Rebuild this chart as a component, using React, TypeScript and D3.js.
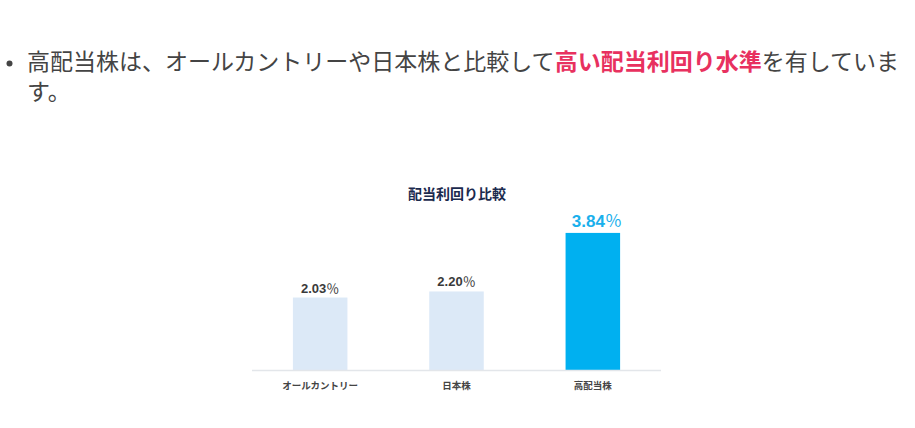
import React from "react";
import * as d3 from "d3";

const categories = ["オールカントリー", "日本株", "高配当株"];
const yields = [2.03, 2.2, 3.84];
const valueLabels = ["2.03", "2.20", "3.84"];
const percentSign = "％";
const chartTitle = "配当利回り比較";
const textPlain1 = "高配当株は、オールカントリーや日本株と比較して";
const textHighlight = "高い配当利回り水準";
const textPlain2 = "を有していま";
const textLine2 = "す。";

const W = 915;
const H = 428;

export default function App() {
  const x = d3.scaleBand<string>().domain(categories).range([252, 661]).paddingInner(0.6).paddingOuter(0.3);
  const y = d3.scaleLinear().domain([0, 4.2]).range([370, 370 - 4.2 * 35.7]);
  const barColors = ["#dce9f7", "#dce9f7", "#00b0f0"];
  const font = "'Noto Sans CJK JP', 'Noto Sans', sans-serif";
  return (
    <svg width={W} height={H} style={{ position: "absolute", left: 0, top: 0, display: "block", background: "#fff" }}>
      <circle cx={9.5} cy={63.5} r={3} fill="#444" />
      <text x={27} y={70} fontFamily={font} fontSize={23} fill="#444">
        <tspan>{textPlain1}</tspan>
        <tspan fill="#e8315f" fontWeight={700}>{textHighlight}</tspan>
        <tspan>{textPlain2}</tspan>
      </text>
      <text x={27} y={99.5} fontFamily={font} fontSize={23} fill="#444">{textLine2}</text>

      <text x={457} y={199} textAnchor="middle" fontFamily={font} fontSize={14} fontWeight={700} fill="#1b2a4e">{chartTitle}</text>

      {categories.map((c, i) => (
        <rect key={c} x={x(c)} y={y(yields[i])} width={x.bandwidth()} height={y(0) - y(yields[i])} fill={barColors[i]} />
      ))}
      <line x1={252} x2={661} y1={370.5} y2={370.5} stroke="#e3e6ea" strokeWidth={1.5} />
      {categories.map((c, i) => {
        const big = i === 2;
        return (
          <text key={"v" + c} x={(x(c) as number) + x.bandwidth() / 2 + (big ? 4 : 0)} y={y(yields[i]) - (big ? 6 : 5)} textAnchor="middle"
            fontFamily="'Liberation Sans', Arial, sans-serif" fontWeight={700} fontSize={big ? 17 : 13}
            fill={big ? "#1ab0ec" : "#3a3a3a"}>
            <tspan>{valueLabels[i]}</tspan>
            <tspan fontFamily={font} fontWeight={400}>{percentSign}</tspan>
          </text>
        );
      })}
      {categories.map((c) => (
        <text key={"c" + c} x={(x(c) as number) + x.bandwidth() / 2} y={389} textAnchor="middle"
          fontFamily={font} fontWeight={700} fontSize={9.5} fill="#444">{c}</text>
      ))}
    </svg>
  );
}
